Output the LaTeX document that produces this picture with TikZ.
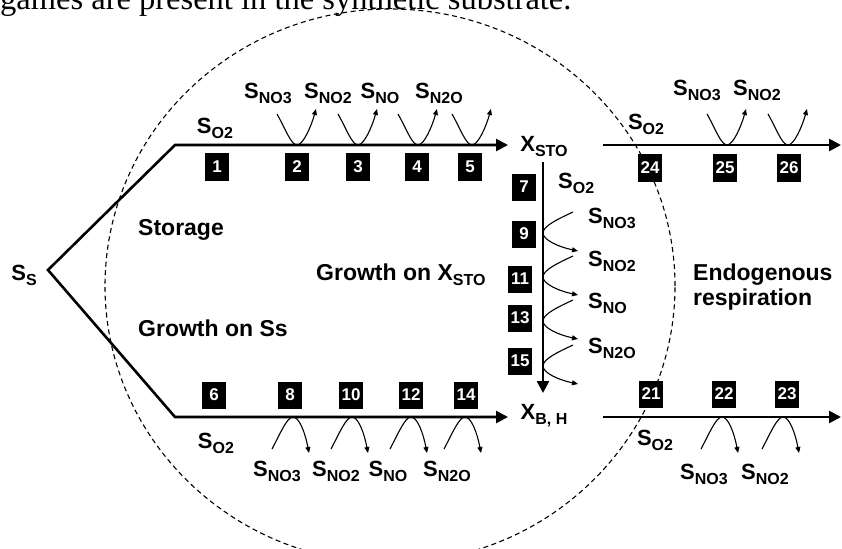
\documentclass[tikz,border=0pt]{standalone}
\usepackage{fontspec}
\setmainfont{Liberation Sans}
\newfontfamily\serifcap{Liberation Serif}
\usetikzlibrary{arrows.meta}

% subscript set smaller and dropped below the baseline
\newcommand\sbs[1]{\raisebox{-5pt}{\fontsize{16}{16}\selectfont #1}}

\begin{document}
\begin{tikzpicture}[x=1pt,y=-1pt,
  lbl/.style={font=\fontsize{22}{24}\selectfont\bfseries, inner sep=0pt},
  txt/.style={font=\fontsize{23}{26}\selectfont\bfseries, inner sep=0pt, anchor=base west},
  num/.style={fill=black, text=white, font=\fontsize{17}{17}\selectfont\bfseries,
              minimum height=27pt, minimum width=24pt, inner sep=1pt},
  flow/.style={line width=2.6pt, line join=miter},
  flowarrow/.style={flow, -{Triangle[length=12pt,width=12pt]}},
  flowboth/.style={flow, {Triangle[length=12pt,width=12pt]}-{Triangle[length=12pt,width=12pt]}},
  looparrow/.style={line width=1.1pt, -{Triangle[length=6pt,width=5pt]}},
  upV/.pic={\draw[looparrow] (-20,-31) .. controls (-12,-17) and (-6,0) .. (0,0)
            .. controls (6,0) and (14,-18) .. (19,-36);},
  downA/.pic={\draw[looparrow] (-21,32) .. controls (-13,17) and (-6,0) .. (0,0)
            .. controls (6,0) and (12,15) .. (16,36);},
  sideC/.pic={\draw[looparrow] (30,-21) .. controls (15,-14) and (0,-7) .. (0,0)
            .. controls (0,7) and (16,14) .. (35,18);}
]
\useasboundingbox (0,0) rectangle (842,548);

% running text of the page above the figure, cut by the page edge
\node[font=\serifcap\fontsize{32.5}{34}\selectfont, anchor=base west, inner sep=0pt]
  (pagetext) at (0,10) {games are present in the synthetic substrate.};

% dashed boundary
\draw[line width=1.1pt, dash pattern=on 5pt off 3.5pt]
  (390,286) ellipse [x radius=285pt, y radius=277pt];

% substrate and main pathways
\node[lbl] (ss) at (24,275) {S\sbs{S}};
\coordinate (fork) at (48,270);
\coordinate (cTop) at (175,145);
\coordinate (cBot) at (175,417);
\coordinate (endTop) at (508,145);
\coordinate (endBot) at (508,417);
\draw[flowboth] (endTop) -- (cTop) -- (fork) -- (cBot) -- (endBot);

\node[lbl] (xsto) at (544,147) {X\sbs{STO}};
\node[lbl] (xbh) at (544,416) {X\sbs{B, H}};

\coordinate (vTop) at (543,162);
\coordinate (vBot) at (543,393);
\draw[flowarrow] (vTop) -- (vBot);

\coordinate (rTop) at (603,145);
\coordinate (rTopEnd) at (841,145);
\coordinate (rBot) at (603,417);
\coordinate (rBotEnd) at (841,417);
\draw[flowarrow] (rTop) -- (rTopEnd);
\draw[flowarrow] (rBot) -- (rBotEnd);

% storage: electron acceptors above the upper line
\node[lbl] (so2a) at (215,128) {S\sbs{O2}};
\node[lbl] (no3a) at (268,93) {S\sbs{NO3}};
\node[lbl] (no2a) at (328,93) {S\sbs{NO2}};
\node[lbl] (noa)  at (380,93) {S\sbs{NO}};
\node[lbl] (n2oa) at (439,93) {S\sbs{N2O}};
\pic at (297,145) {upV};
\pic at (358,145) {upV};
\pic at (418,145) {upV};
\pic at (472,145) {upV};

\node[num] (n1) at (217,167) {1};
\node[num] (n2) at (297,167) {2};
\node[num] (n3) at (358,167) {3};
\node[num] (n4) at (417,167) {4};
\node[num] (n5) at (470,167) {5};

% growth on Ss: electron acceptors below the lower line
\node[lbl] (so2b) at (216,443) {S\sbs{O2}};
\node[lbl] (no3b) at (277,471) {S\sbs{NO3}};
\node[lbl] (no2b) at (336,471) {S\sbs{NO2}};
\node[lbl] (nob)  at (388,471) {S\sbs{NO}};
\node[lbl] (n2ob) at (447,471) {S\sbs{N2O}};
\pic at (293,417) {downA};
\pic at (352,417) {downA};
\pic at (411,417) {downA};
\pic at (465,417) {downA};

\node[num] (n6)  at (214,395) {6};
\node[num] (n8)  at (290,395) {8};
\node[num] (n10) at (351,395) {10};
\node[num] (n12) at (411,395) {12};
\node[num] (n14) at (466,395) {14};

% growth on XSTO: vertical pathway
\node[lbl, anchor=west] (so2c) at (558,183) {S\sbs{O2}};
\node[lbl, anchor=west] (no3c) at (588,218) {S\sbs{NO3}};
\node[lbl, anchor=west] (no2c) at (588,261) {S\sbs{NO2}};
\node[lbl, anchor=west] (noc)  at (588,303) {S\sbs{NO}};
\node[lbl, anchor=west] (n2oc) at (588,348) {S\sbs{N2O}};
\pic at (543,233) {sideC};
\pic at (543,277) {sideC};
\pic at (543,321) {sideC};
\pic at (543,366) {sideC};

\node[num] (n7)  at (524,187) {7};
\node[num] (n9)  at (524,234) {9};
\node[num] (n11) at (520,279) {11};
\node[num] (n13) at (520,318) {13};
\node[num] (n15) at (520,361) {15};

% endogenous respiration
\node[lbl] (so2d) at (646,124) {S\sbs{O2}};
\node[lbl] (no3d) at (697,90) {S\sbs{NO3}};
\node[lbl] (no2d) at (757,90) {S\sbs{NO2}};
\pic at (727,145) {upV};
\pic at (788,145) {upV};
\node[num] (n24) at (650,168) {24};
\node[num] (n25) at (725,168) {25};
\node[num] (n26) at (789,168) {26};

\node[lbl] (so2e) at (655,440) {S\sbs{O2}};
\node[lbl] (no3e) at (704,474) {S\sbs{NO3}};
\node[lbl] (no2e) at (765,474) {S\sbs{NO2}};
\pic at (722,417) {downA};
\pic at (783,417) {downA};
\node[num] (n21) at (651,394) {21};
\node[num] (n22) at (724,394) {22};
\node[num] (n23) at (787,394) {23};

% process names
\node[txt] (storage) at (138,235) {Storage};
\node[txt] (growss) at (138,336) {Growth on Ss};
\node[txt] (growx) at (316,280) {Growth on X\sbs{STO}};
\node[txt] (endo1) at (693,280) {Endogenous};
\node[txt] (endo2) at (693,305) {respiration};
\end{tikzpicture}
\end{document}
